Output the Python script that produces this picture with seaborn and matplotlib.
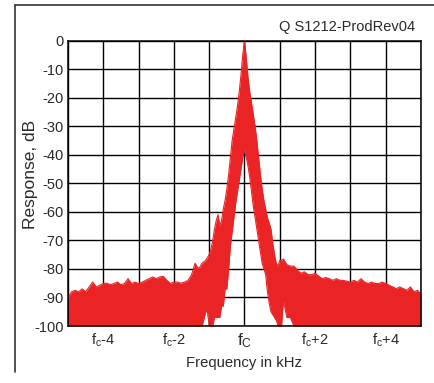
import matplotlib
matplotlib.use("Agg")
import matplotlib.pyplot as plt
from matplotlib.lines import Line2D
import seaborn as sns
import pandas as pd

# ---- data (offset from fc in kHz, response in dB) ----
left_freq = [-5.0, -4.9, -4.8, -4.7, -4.6, -4.5, -4.4, -4.3, -4.2, -4.1,
             -4.0, -3.9, -3.8, -3.7, -3.6, -3.5, -3.4, -3.3, -3.2, -3.1,
             -3.0, -2.9, -2.8, -2.7, -2.6, -2.5, -2.4, -2.3, -2.2, -2.1,
             -2.0, -1.9, -1.8, -1.7, -1.6, -1.5, -1.4, -1.3, -1.2, -1.1]
left_upper = [-90, -88, -87.5, -88, -87, -88, -86.3, -84.6, -86.3, -85.7,
              -85.1, -85, -85.5, -85.1, -84.6, -85.5, -85.1, -83.4, -85.1, -84.6,
              -85.1, -84.6, -84, -83.4, -82.8, -83.4, -82.8, -82.6, -84, -85.1,
              -84.6, -84.6, -85, -84.6, -84, -82, -78, -80, -78, -77]
left_lower = [-100] * 39 + [-95]

center_freq = [-1.05, -1.0, -0.95, -0.9, -0.85, -0.8, -0.75, -0.7, -0.65, -0.6,
               -0.55, -0.5, -0.45, -0.4, -0.35, -0.3, -0.25, -0.2, -0.15, -0.1,
               -0.05, 0.0, 0.05, 0.1, 0.15, 0.2, 0.25, 0.3, 0.35, 0.4,
               0.45, 0.5, 0.55, 0.6, 0.65, 0.7, 0.75, 0.8, 0.85, 0.9,
               0.95, 1.0, 1.05]
center_upper = [-76, -75, -73, -70, -66, -63, -61, -65, -63, -59,
                -56, -52, -47, -41, -35, -31, -27, -23, -18, -12,
                -5, 0, -6, -13, -18, -22, -26, -30, -35, -41,
                -47, -52, -56, -59, -62, -64, -66, -71, -75, -78,
                -79, -77, -77]
center_lower = [-95, -100, -100, -100, -97, -97, -97, -97, -93, -93,
                -87, -87, -80, -72, -67, -62, -57, -53, -49, -45,
                -41, -38, -41, -44, -48, -53, -58, -62, -66, -70,
                -74, -78, -80, -82, -88, -92, -95, -96, -97, -98,
                -100, -100, -100]

right_freq = [1.1, 1.2, 1.3, 1.4, 1.5, 1.6, 1.7, 1.8, 1.9, 2.0,
              2.1, 2.2, 2.3, 2.4, 2.5, 2.6, 2.7, 2.8, 2.9, 3.0,
              3.1, 3.2, 3.3, 3.4, 3.5, 3.6, 3.7, 3.8, 3.9, 4.0,
              4.1, 4.2, 4.3, 4.4, 4.5, 4.6, 4.7, 4.8, 4.9, 5.0]
right_upper = [-76.5, -78.5, -79, -79, -80.5, -81.5, -81, -82, -82, -81.5,
               -82.5, -83.4, -83, -83.4, -84, -83.4, -84, -84, -84.3, -84.6,
               -84, -84.6, -83.4, -84.6, -85.1, -84.6, -85.1, -85.1, -84.6, -85.1,
               -85.7, -86.3, -86.9, -86.3, -86.9, -87.5, -86.3, -88, -87.5, -88.7]
right_lower = [-91, -97, -97] + [-100] * 37

x_ticks = [-4, -2, 0, 2, 4]
x_ticklabels = [r"f$_\mathregular{c}$-4", r"f$_\mathregular{c}$-2", r"f$_\mathregular{C}$",
                r"f$_\mathregular{c}$+2", r"f$_\mathregular{c}$+4"]
y_ticks = [0, -10, -20, -30, -40, -50, -60, -70, -80, -90, -100]
y_ticklabels = ["0", "-10", "-20", "-30", "-40", "-50", "-60", "-70", "-80", "-90", "-100"]

title_text = "Q S1212-ProdRev04"
x_label = "Frequency in kHz"
y_label = "Response, dB"

# ---- build table ----
df = pd.DataFrame({
    "freq": left_freq + center_freq + right_freq,
    "upper": left_upper + center_upper + right_upper,
    "lower": left_lower + center_lower + right_lower,
})

sns.set_theme(style="white")
plt.rcParams["font.family"] = ["Liberation Sans", "DejaVu Sans"]
plt.rcParams["axes.unicode_minus"] = False
plt.rcParams["mathtext.default"] = "regular"

RED = "#EA2424"
TXT = "#2a2a2a"

fig = plt.figure(figsize=(4.35, 3.83), dpi=100)
fig.patch.set_facecolor("white")
ax = fig.add_axes([0.1563, 0.1488, 0.8115, 0.7449])

ax.fill_between(df["freq"], df["lower"], df["upper"],
                color=RED, linewidth=0, zorder=2)
sns.lineplot(data=df, x="freq", y="upper", ax=ax, color=RED, linewidth=0.8,
             zorder=3, legend=False)
sns.lineplot(data=df, x="freq", y="lower", ax=ax, color=RED, linewidth=0.8,
             zorder=3, legend=False)

ax.set_xlim(-5, 5)
ax.set_ylim(-100, 0)
ax.set_xticks(range(-5, 6))
ax.set_xticklabels(["" if v not in x_ticks else x_ticklabels[x_ticks.index(v)]
                    for v in range(-5, 6)], fontsize=10.5, color=TXT)
for lbl in ax.get_xticklabels():
    if lbl.get_text() == x_ticklabels[2]:
        lbl.set_fontsize(12.5)
ax.set_yticks(y_ticks)
ax.set_yticklabels(y_ticklabels, fontsize=10.5, color=TXT)
ax.tick_params(axis="y", length=0, pad=3)
ax.tick_params(axis="x", length=0, pad=4)
ax.grid(True, color="black", linewidth=1.0)
ax.set_axisbelow(True)
for s in ax.spines.values():
    s.set_color("black")
    s.set_linewidth(1.1)
    s.set_zorder(5)

ax.set_xlabel(x_label, fontsize=10.7, color=TXT)
ax.xaxis.set_label_coords(0.5, -0.106)
ax.set_ylabel(y_label, fontsize=12.5, color=TXT)
ax.yaxis.set_label_coords(-0.085, 0.53)

fig.text(0.954, 0.929, title_text, ha="right", va="center", fontsize=10.5, color=TXT)

# outer frame (left and top edges)
fig.add_artist(Line2D([0.0345, 0.0345], [0.0287, 0.987], color="#333333", linewidth=1.2))
fig.add_artist(Line2D([0.0345, 1.0], [0.987, 0.987], color="#333333", linewidth=1.2))

fig.savefig("out.png", dpi=100)
